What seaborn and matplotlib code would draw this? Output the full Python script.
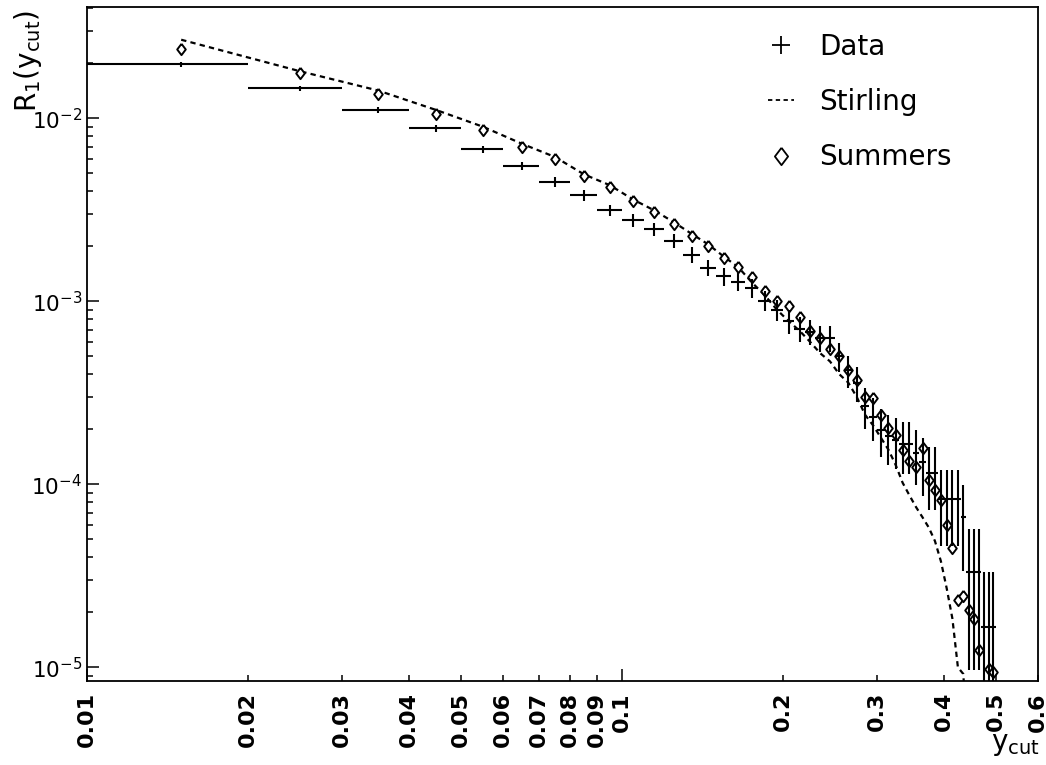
import numpy as np
import pandas as pd
import matplotlib
matplotlib.use("Agg")
import matplotlib.pyplot as plt
from matplotlib.lines import Line2D
from matplotlib.ticker import FixedLocator, FixedFormatter, LogLocator, NullFormatter
import seaborn as sns

# ---- bins in y_cut (width 0.01) -------------------------------------------
ycut_centres = [0.015, 0.025, 0.035, 0.045, 0.055, 0.065, 0.075, 0.085, 0.095,
                0.105, 0.115, 0.125, 0.135, 0.145, 0.155, 0.165, 0.175, 0.185, 0.195,
                0.205, 0.215, 0.225, 0.235, 0.245, 0.255, 0.265, 0.275, 0.285, 0.295,
                0.305, 0.315, 0.325, 0.335, 0.345, 0.355, 0.365, 0.375, 0.385, 0.395,
                0.405, 0.415, 0.425, 0.435, 0.445, 0.455, 0.465, 0.475, 0.485, 0.495]
bin_half_width = 0.005

# ---- measured rate R1 with statistical errors --------------------------------
data_r1 = [0.0197, 0.0146, 0.0111, 0.00885, 0.00677, 0.00549, 0.00449, 0.00380, 0.00314,
           0.00277, 0.00247, 0.00214, 0.00180, 0.00153, 0.00137, 0.00128, 0.00119, 0.00101, 0.00090,
           0.00078, 0.00071, 0.00068, 0.00063, 0.00063, 0.00050, 0.00042, 0.00036, 0.000267, 0.000234,
           0.000199, 0.000183, 0.000175, 0.000166, 0.000166, 0.000149, 0.000133, 0.000116, 0.000116, 8.3e-5,
           8.3e-5, 8.3e-5, 8.3e-5, 6.64e-5, 3.32e-5, 3.32e-5, 3.32e-5, 1.66e-5, 1.66e-5, 1.66e-5]
data_err = [5.7e-4, 4.9e-4, 4.3e-4, 3.8e-4, 3.35e-4, 3.0e-4, 2.7e-4, 2.5e-4, 2.3e-4,
            2.14e-4, 2.02e-4, 1.88e-4, 1.73e-4, 1.59e-4, 1.51e-4, 1.46e-4, 1.41e-4, 1.29e-4, 1.22e-4,
            1.14e-4, 1.09e-4, 1.06e-4, 1.02e-4, 1.02e-4, 9.1e-5, 8.4e-5, 7.7e-5, 6.7e-5, 6.2e-5,
            5.75e-5, 5.5e-5, 5.4e-5, 5.25e-5, 5.25e-5, 5.0e-5, 4.7e-5, 4.4e-5, 4.4e-5, 3.7e-5,
            3.7e-5, 3.7e-5, 3.7e-5, 3.3e-5, 2.35e-5, 2.35e-5, 2.35e-5, 1.66e-5, 1.66e-5, 1.66e-5]

# ---- Summers prediction (no entry in the 0.47-0.48 bin) ---------------------
summers_r1 = [0.0238, 0.0177, 0.01365, 0.0105, 0.0086, 0.00697, 0.00597, 0.00482, 0.00422,
              0.00352, 0.00308, 0.00266, 0.00228, 0.00200, 0.00172, 0.00155, 0.00135, 0.00114, 0.00101,
              0.00094, 0.00082, 0.00069, 0.00063, 0.00055, 0.00050, 0.00042, 0.00037, 0.00030, 0.000297,
              0.000240, 0.000203, 0.000185, 0.000155, 0.000134, 0.000124, 0.000158, 0.000105, 9.3e-5, 8.2e-5,
              6.0e-5, 4.5e-5, 2.32e-5, 2.45e-5, 2.05e-5, 1.84e-5, 1.24e-5, np.nan, 9.85e-6, 9.44e-6]

# ---- Stirling prediction (up to y_cut = 0.445) -------------------------------
stirling_r1 = [0.0269, 0.0181, 0.0142, 0.0111, 0.0090, 0.00727, 0.00615, 0.00494, 0.00431,
               0.00360, 0.00314, 0.00271, 0.00234, 0.00205, 0.00176, 0.00154, 0.00127, 0.00108, 0.00090,
               0.00078, 0.00069, 0.00060, 0.00052, 0.00047, 0.00040, 0.00036, 0.00030, 0.00024, 0.00021,
               0.00018, 0.000155, 0.000128, 0.000102, 8.7e-5, 7.5e-5, 6.6e-5, 5.8e-5, 4.9e-5, 3.8e-5,
               2.7e-5, 1.85e-5, 1.0e-5, 9.2e-6, 3.0e-6]

# ---- axis ticks --------------------------------------------------------------
x_major = [0.01, 0.1]
x_major_labels = ["0.01", "0.1"]
x_minor = [0.02, 0.03, 0.04, 0.05, 0.06, 0.07, 0.08, 0.09, 0.2, 0.3, 0.4, 0.5, 0.6]
x_minor_labels = ["0.02", "0.03", "0.04", "0.05", "0.06", "0.07", "0.08", "0.09",
                  "0.2", "0.3", "0.4", "0.5", "0.6"]

sns.set_theme(style="ticks")
plt.rcParams["font.family"] = ["DejaVu Sans"]
plt.rcParams["mathtext.default"] = "regular"
for key in ("axes.edgecolor", "text.color", "axes.labelcolor", "xtick.color", "ytick.color"):
    plt.rcParams[key] = "black"

# open diamond, a little wider than matplotlib's thin diamond
diamond = [(0.0, 1.0), (0.76, 0.0), (0.0, -1.0), (-0.76, 0.0), (0.0, 1.0)]

W, H = 1046, 765
fig = plt.figure(figsize=(W / 100, H / 100), dpi=100)
fig.patch.set_facecolor("white")
ax = fig.add_axes([87 / W, 1 - 681 / H, (1038 - 87) / W, (681 - 7) / H])
ax.set_facecolor("white")
ax.set_xscale("log")
ax.set_yscale("log", nonpositive="clip")

stirling_df = pd.DataFrame({"ycut": ycut_centres[:len(stirling_r1)], "R1": stirling_r1})
summers_df = pd.DataFrame({"ycut": ycut_centres, "R1": summers_r1}).dropna()

dash = (0, (2.4, 1.9))
sns.lineplot(data=stirling_df, x="ycut", y="R1", ax=ax, color="black", lw=1.6,
             linestyle=dash, estimator=None, sort=False, legend=False, zorder=2)
sns.scatterplot(data=summers_df, x="ycut", y="R1", ax=ax, marker=diamond, s=66,
                facecolor="white", edgecolor="black", linewidth=1.4, legend=False, zorder=3)
ax.errorbar(ycut_centres, data_r1, xerr=bin_half_width, yerr=data_err, fmt="none",
            ecolor="black", elinewidth=1.5, capsize=0, zorder=4)

ax.set_xlim(0.01, 0.6)
ax.set_ylim(8.42e-6, 0.0406)

# x axis: every tick labelled, rotated
ax.xaxis.set_major_locator(FixedLocator(x_major))
ax.xaxis.set_major_formatter(FixedFormatter(x_major_labels))
ax.xaxis.set_minor_locator(FixedLocator(x_minor))
ax.xaxis.set_minor_formatter(FixedFormatter(x_minor_labels))
ax.tick_params(axis="x", which="both", direction="in", bottom=True, top=False,
               labelrotation=90, labelsize=16, pad=8, width=1.1, color="black")
ax.tick_params(axis="x", which="major", length=8.5)
ax.tick_params(axis="x", which="minor", length=4.3)
for lbl in ax.get_xticklabels(which="both"):
    lbl.set_fontweight("bold")

# y axis: decades labelled, minor ticks unlabelled
ax.yaxis.set_major_locator(LogLocator(base=10, numticks=10))
ax.yaxis.set_minor_locator(LogLocator(base=10, subs=np.arange(2, 10), numticks=20))
ax.yaxis.set_minor_formatter(NullFormatter())
ax.tick_params(axis="y", which="both", direction="in", left=True, right=False,
               labelsize=15.5, pad=3.5, width=1.1, color="black")
ax.tick_params(axis="y", which="major", length=8.5)
ax.tick_params(axis="y", which="minor", length=4.0)

for sp in ax.spines.values():
    sp.set_visible(True)
    sp.set_linewidth(1.3)
    sp.set_color("black")

ax.set_ylabel("R$_1$(y$_{cut}$)", fontsize=20, loc="top")
ax.yaxis.set_label_coords(-0.045, 0.996)
ax.set_xlabel("y$_{cut}$", fontsize=20, loc="right")
ax.xaxis.set_label_coords(1.002, -0.072)

handles = [
    Line2D([], [], color="black", marker="+", linestyle="none", markersize=13, markeredgewidth=1.3),
    Line2D([], [], color="black", linestyle=dash, lw=1.3),
    Line2D([], [], color="black", marker=diamond, markerfacecolor="white", linestyle="none",
           markersize=12.5, markeredgewidth=1.3),
]
ax.legend(handles, ["Data", "Stirling", "Summers"], loc="upper left",
          bbox_to_anchor=(768 / W, 1 - 33 / H), bbox_transform=fig.transFigure,
          frameon=False, fontsize=20, handlelength=0.95, handletextpad=0.9,
          labelspacing=0.98, borderpad=0, borderaxespad=0)

fig.savefig("out.png", dpi=100, facecolor="white")
